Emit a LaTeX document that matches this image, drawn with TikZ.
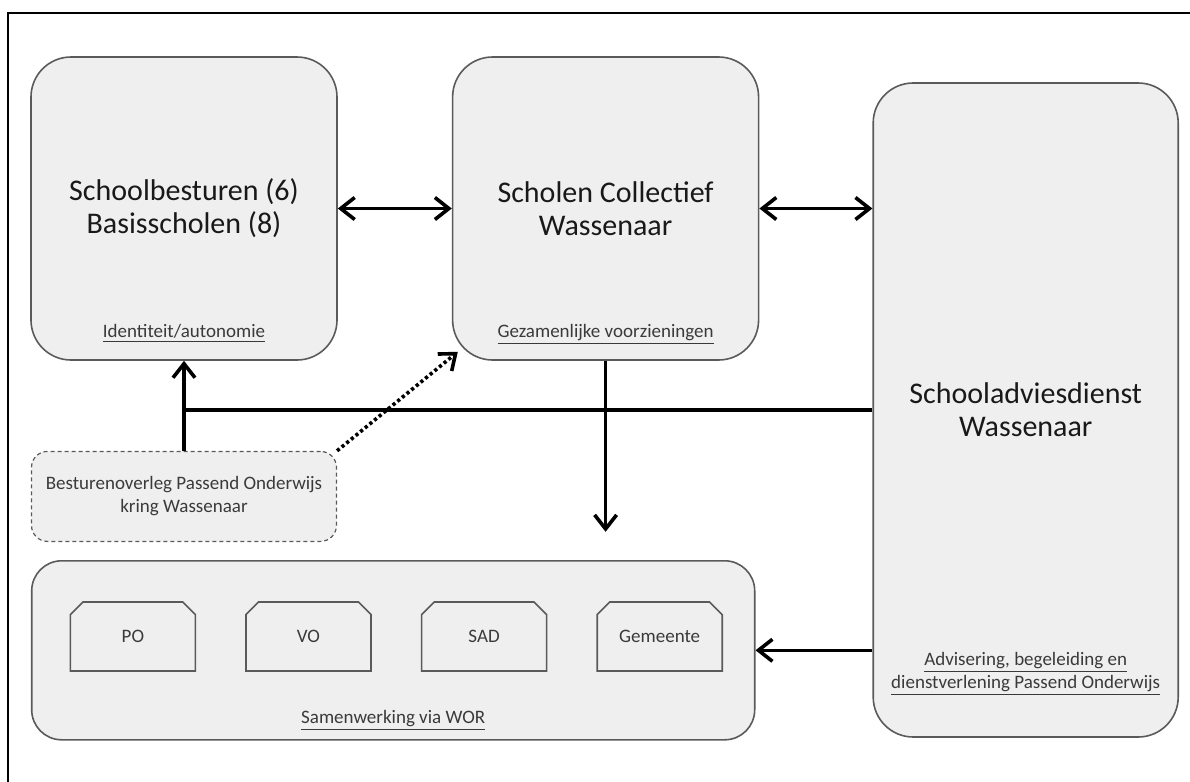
\documentclass[tikz,border=0pt]{standalone}
\usepackage{fontspec}
\setmainfont{Carlito}
\usetikzlibrary{positioning,shapes.misc,arrows.meta}
\definecolor{BoxFill}{HTML}{EFEFEF}
\definecolor{BoxLine}{HTML}{5A5A5A}
\definecolor{TextGray}{HTML}{3A3A3A}

\begin{document}
\begin{tikzpicture}[>={Straight Barb[length=7pt,width=11pt]},
                    bigbox/.style={draw=BoxLine, line width=0.8pt, fill=BoxFill, rounded corners=20pt,
                                   align=center, inner sep=0pt, text=black!90,
                                   font=\fontsize{15}{16.5}\selectfont},
                    dashbox/.style={draw=BoxLine, line width=0.6pt, dash pattern=on 2pt off 1.5pt,
                                    fill=BoxFill, rounded corners=8pt, align=center, inner sep=0pt,
                                    text=TextGray, font=\fontsize{9.5}{11.5}\selectfont,
                                    minimum width=152.5pt, minimum height=45pt},
                    tagbox/.style={draw=BoxLine, line width=0.8pt, fill=BoxFill, chamfered rectangle,
                                   chamfered rectangle corners={north west,north east},
                                   chamfered rectangle xsep=6pt, minimum width=62.5pt,
                                   minimum height=34.5pt, inner sep=0pt, text=TextGray,
                                   font=\fontsize{9.5}{11.5}\selectfont},
                    lbl/.style={align=center, inner sep=0pt, text=TextGray,
                                font=\fontsize{9.5}{11.5}\selectfont},
                    link/.style={line width=1.8pt, black}]
\useasboundingbox (0,0) rectangle (595pt,-391pt);
% frame
\draw[line width=1pt] (4pt,-391pt) -- (4pt,-6.5pt) -- (595pt,-6.5pt);
% main blocks
\node[bigbox, minimum width=153pt, minimum height=151.5pt] (sb) at (92pt,-104.25pt)
  {Schoolbesturen (6)\\Basisscholen (8)};
\node[bigbox, minimum width=153pt, minimum height=151.5pt, right=57pt of sb] (scw)
  {Scholen Collectief\\Wassenaar};
\node[bigbox, minimum width=152.5pt, minimum height=327pt,
      below right=13pt and 56.5pt of scw.north east] (sdw) {Schooladviesdienst\\Wassenaar};
\node[dashbox, below=45pt of sb] (bo) {Besturenoverleg Passend Onderwijs\\kring Wassenaar};
\node[bigbox, rounded corners=15pt, minimum width=361.5pt, minimum height=89.5pt,
      below right=9pt and 0pt of bo.south west] (wor) {};
% underlined captions
\node[lbl] (sb-cap) at ([yshift=13.5pt]sb.south) {\underline{Identiteit/autonomie}};
\node[lbl] (scw-cap) at ([yshift=13pt]scw.south) {\underline{Gezamenlijke voorzieningen}};
\node[lbl] (sdw-cap) at ([yshift=31.75pt]sdw.south)
  {\underline{Advisering, begeleiding en}\\\underline{dienstverlening Passend Onderwijs}};
\node[lbl] (wor-cap) at ([yshift=10pt]wor.south) {\underline{Samenwerking via WOR}};
% partners
\node[tagbox] (po) at ([shift={(51pt,-38.25pt)}]wor.north west) {PO};
\node[tagbox, right=24.5pt of po] (vo) {VO};
\node[tagbox, right=24.5pt of vo] (sad) {SAD};
\node[tagbox, right=24.5pt of sad] (gem) {Gemeente};
% connectors
\coordinate (junc) at ([yshift=-24.5pt]sb.south);
\coordinate (scw-end) at ([yshift=-85.5pt]scw.south);
\coordinate (scw-tip) at ([shift={(3pt,4.5pt)}]scw.south west);
\draw[link, <->] (sb.east) -- (scw.west);
\draw[link, <->] (scw.east) -- (scw.east -| sdw.west);
\draw[link, ->] (bo.north) -- (sb.south);
\draw[link] (junc) -- (junc -| sdw.west);
\draw[link, ->] (scw.south) -- (scw-end);
\draw[link, ->] (sdw.west |- wor.east) -- (wor.east);
\draw[link, ->, dash pattern=on 1.6pt off 1.4pt] (bo.north east) -- (scw-tip);
\end{tikzpicture}
\end{document}
